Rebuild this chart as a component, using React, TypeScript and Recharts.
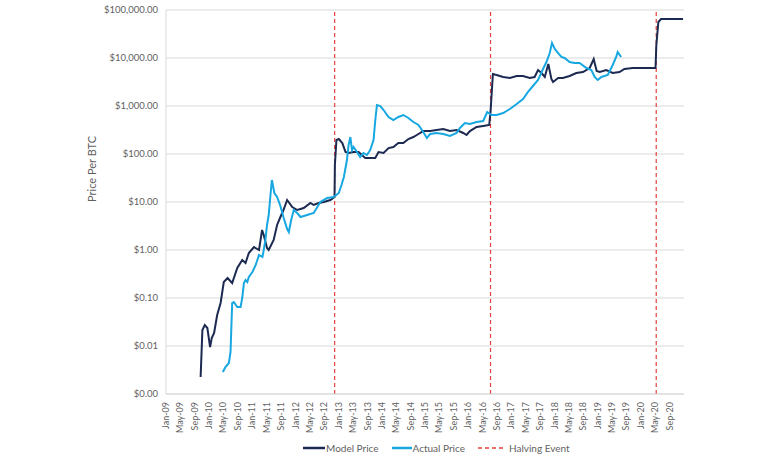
import { LineChart, Line, XAxis, YAxis, CartesianGrid, ReferenceLine } from "recharts";

// [date, price in USD]
const modelPrice: [string, number][] = [
  ["2009-10-21", 0.00226], ["2009-11-05", 0.0215], ["2009-11-25", 0.0274], ["2009-12-17", 0.0237],
  ["2010-01-09", 0.0095], ["2010-01-23", 0.0147], ["2010-02-12", 0.0187], ["2010-03-10", 0.0443],
  ["2010-04-08", 0.0787], ["2010-05-05", 0.215], ["2010-06-06", 0.261], ["2010-07-15", 0.205],
  ["2010-08-27", 0.422], ["2010-10-08", 0.619], ["2010-11-05", 0.536], ["2010-12-03", 0.866],
  ["2011-01-15", 1.155], ["2011-02-27", 1.0], ["2011-03-25", 2.61], ["2011-04-08", 2.05],
  ["2011-05-06", 1.1], ["2011-05-20", 1.0], ["2011-07-01", 1.62], ["2011-07-30", 3.32],
  ["2011-08-27", 4.87], ["2011-09-22", 6.81], ["2011-10-23", 11.0], ["2011-12-05", 7.87],
  ["2012-01-16", 6.81], ["2012-03-11", 7.5], ["2012-05-07", 9.53], ["2012-06-04", 8.66],
  ["2012-07-16", 9.53], ["2012-08-28", 10.0], ["2012-10-23", 11.0], ["2012-11-27", 12.7],
  ["2012-11-30", 59], ["2012-12-13", 196], ["2013-01-02", 205], ["2013-02-01", 169],
  ["2013-02-28", 110], ["2013-03-26", 105], ["2013-05-07", 110], ["2013-06-18", 110],
  ["2013-07-16", 95.3], ["2013-08-14", 82.5], ["2013-09-25", 82.5], ["2013-11-07", 82.5],
  ["2013-12-04", 110], ["2014-01-16", 105], ["2014-02-27", 133], ["2014-04-09", 140],
  ["2014-05-21", 169], ["2014-07-02", 169], ["2014-08-14", 205], ["2014-09-25", 226],
  ["2014-11-07", 261], ["2014-12-18", 301], ["2015-02-14", 301], ["2015-04-10", 316],
  ["2015-06-05", 332], ["2015-08-01", 301], ["2015-09-26", 316], ["2015-11-21", 274],
  ["2015-12-19", 249], ["2016-01-17", 301], ["2016-03-13", 365], ["2016-05-08", 383],
  ["2016-06-28", 402], ["2016-07-10", 825], ["2016-07-29", 4640], ["2016-08-29", 4420],
  ["2016-10-24", 4020], ["2016-12-20", 3830], ["2017-02-15", 4220], ["2017-04-10", 4220],
  ["2017-06-06", 3830], ["2017-07-17", 4020], ["2017-08-15", 5620], ["2017-09-13", 4870],
  ["2017-10-11", 4020], ["2017-11-10", 7500], ["2017-12-06", 3650], ["2017-12-20", 3160],
  ["2018-02-01", 3830], ["2018-03-13", 3830], ["2018-05-09", 4220], ["2018-07-05", 4870],
  ["2018-08-30", 5110], ["2018-10-26", 6190], ["2018-11-29", 9530], ["2018-12-24", 5360],
  ["2019-01-19", 5110], ["2019-03-15", 5620], ["2019-05-09", 4870], ["2019-07-05", 5110],
  ["2019-08-16", 5900], ["2019-10-26", 6190], ["2020-02-17", 6190], ["2020-05-05", 6190],
  ["2020-05-12", 18660], ["2020-05-29", 56200], ["2020-06-21", 64900], ["2020-12-24", 64900],
];

const actualPrice: [string, number][] = [
  ["2010-04-27", 0.00287], ["2010-05-19", 0.00365], ["2010-06-17", 0.00443], ["2010-07-01", 0.0075],
  ["2010-07-15", 0.0787], ["2010-07-29", 0.0826], ["2010-08-27", 0.0649], ["2010-09-24", 0.0649],
  ["2010-10-08", 0.1], ["2010-10-22", 0.205], ["2010-11-05", 0.237], ["2010-11-20", 0.215],
  ["2010-12-03", 0.274], ["2011-01-02", 0.348], ["2011-01-30", 0.487], ["2011-02-27", 0.787],
  ["2011-03-28", 0.715], ["2011-04-08", 1.0], ["2011-04-22", 1.62], ["2011-05-06", 3.32],
  ["2011-05-20", 5.36], ["2011-06-04", 14.0], ["2011-06-16", 28.7], ["2011-07-07", 15.4],
  ["2011-07-30", 12.7], ["2011-08-27", 8.25], ["2011-09-24", 4.64], ["2011-10-23", 2.74],
  ["2011-11-06", 2.37], ["2011-11-26", 4.22], ["2011-12-18", 6.81], ["2012-01-16", 5.9],
  ["2012-02-13", 4.87], ["2012-04-09", 5.36], ["2012-06-04", 5.9], ["2012-07-30", 10.0],
  ["2012-09-25", 12.1], ["2012-11-20", 12.7], ["2013-01-02", 15.4], ["2013-01-25", 22.6],
  ["2013-02-14", 33.2], ["2013-03-12", 75], ["2013-03-26", 154], ["2013-04-10", 226],
  ["2013-04-24", 121], ["2013-05-07", 140], ["2013-06-05", 110], ["2013-07-02", 86.6],
  ["2013-07-30", 105], ["2013-08-28", 95.3], ["2013-09-25", 121], ["2013-10-23", 196],
  ["2013-11-07", 511], ["2013-11-21", 1050], ["2013-12-19", 1000], ["2014-01-16", 825],
  ["2014-02-27", 590], ["2014-04-09", 511], ["2014-05-21", 590], ["2014-07-02", 649],
  ["2014-08-14", 562], ["2014-09-25", 464], ["2014-11-07", 402], ["2014-12-18", 287],
  ["2015-01-17", 215], ["2015-02-14", 261], ["2015-04-10", 274], ["2015-06-05", 261],
  ["2015-08-01", 237], ["2015-09-26", 274], ["2015-10-24", 348], ["2015-12-05", 442],
  ["2016-01-17", 422], ["2016-03-13", 464], ["2016-05-08", 487], ["2016-06-11", 750],
  ["2016-07-17", 649], ["2016-08-29", 649], ["2016-10-24", 715], ["2016-12-20", 866],
  ["2017-02-15", 1100], ["2017-04-10", 1400], ["2017-05-22", 1960], ["2017-07-03", 2610],
  ["2017-08-15", 3480], ["2017-09-26", 5900], ["2017-10-25", 8250], ["2017-11-22", 12700],
  ["2017-12-11", 20500], ["2018-01-04", 15400], ["2018-02-01", 12700], ["2018-03-01", 10500],
  ["2018-03-28", 10000], ["2018-05-09", 8250], ["2018-06-20", 7870], ["2018-08-02", 7870],
  ["2018-09-28", 6190], ["2018-11-09", 5620], ["2018-12-07", 4020], ["2019-01-02", 3480],
  ["2019-02-02", 4020], ["2019-03-28", 4420], ["2019-05-09", 7150], ["2019-06-07", 10500],
  ["2019-06-20", 13300], ["2019-07-19", 10500],
];

const halvingDates = ["2012-11-28", "2016-07-09", "2020-05-11"];
const yTicks = [0.001, 0.01, 0.1, 1, 10, 100, 1000, 10000, 100000];
const monthNames = ["Jan", "May", "Sep"];

const MODEL = "#1c2a52";
const ACTUAL = "#17a7e1";
const HALVING = "#e5413b";
const TEXT = "#5f5f5f";
const GRID = "#d9d9d9";

const toTime = (d: string) => Date.parse(d + "T00:00:00Z");

const rows = [
  ...modelPrice.map(([d, v]) => ({ t: toTime(d), model: v })),
  ...actualPrice.map(([d, v]) => ({ t: toTime(d), actual: v })),
].sort((a, b) => a.t - b.t);

// a label every 4 months, Jan-09 .. Sep-20
const xTicks: number[] = [];
for (let y = 2009; y <= 2020; y++) {
  for (let k = 0; k < 3; k++) xTicks.push(Date.UTC(y, k * 4, 1));
}

function formatMonth(t: number): string {
  const d = new Date(t);
  return `${monthNames[d.getUTCMonth() / 4]}-${String(d.getUTCFullYear() % 100).padStart(2, "0")}`;
}

function formatPrice(v: number): string {
  return "$" + v.toLocaleString("en-US", { minimumFractionDigits: 2, maximumFractionDigits: 2 });
}

function MonthTick({ x, y, payload }: any) {
  return (
    <g transform={`translate(${x},${y})`}>
      <text transform="rotate(-90)" x={0} y={0} dy="0.35em" textAnchor="end" fontSize={9} fill={TEXT}>
        {formatMonth(payload.value)}
      </text>
    </g>
  );
}

function LegendItem({ color, dashed, label, lineWidth }: { color: string; dashed?: boolean; label: string; lineWidth: number }) {
  return (
    <div style={{ display: "flex", alignItems: "center", marginRight: 13 }}>
      <svg width={lineWidth} height={4} style={{ marginRight: dashed ? 6 : 1 }}>
        <line x1={0} y1={2} x2={lineWidth} y2={2} stroke={color} strokeWidth={dashed ? 1.5 : 2.5} strokeDasharray={dashed ? "4 3" : undefined} />
      </svg>
      <span>{label}</span>
    </div>
  );
}

export default function App() {
  return (
    <div style={{ position: "absolute", left: 0, top: 0, width: 768, height: 463, background: "#fff", fontFamily: "Lato, sans-serif" }}>
      <LineChart width={768} height={463} data={rows} margin={{ top: 10, right: 84, left: 86, bottom: 29 }}>
        <CartesianGrid vertical={false} stroke={GRID} />
        <XAxis
          type="number"
          dataKey="t"
          domain={[Date.UTC(2009, 0, 1), Date.UTC(2021, 0, 1)]}
          ticks={xTicks}
          interval={0}
          tick={<MonthTick />}
          tickLine={false}
          axisLine={{ stroke: GRID }}
          height={40}
        />
        <YAxis
          type="number"
          scale="log"
          domain={[0.001, 100000]}
          ticks={yTicks}
          allowDataOverflow
          tickFormatter={formatPrice}
          tick={{ fontSize: 9.5, fill: TEXT }}
          tickLine={false}
          axisLine={{ stroke: GRID }}
          width={80}
          label={{ value: "Price Per BTC", angle: -90, position: "insideLeft", offset: 6, fontSize: 11, fill: TEXT }}
        />
        {halvingDates.map((d) => (
          <ReferenceLine key={d} x={toTime(d)} stroke={HALVING} strokeWidth={1.2} strokeDasharray="4 3" />
        ))}
        <Line type="linear" dataKey="model" stroke={MODEL} strokeWidth={2} dot={false} connectNulls isAnimationActive={false} />
        <Line type="linear" dataKey="actual" stroke={ACTUAL} strokeWidth={2} dot={false} connectNulls isAnimationActive={false} />
      </LineChart>
      <div style={{ position: "absolute", top: 442, left: 303, display: "flex", alignItems: "center", fontSize: 10, color: TEXT, whiteSpace: "nowrap" }}>
        <LegendItem color={MODEL} label="Model Price" lineWidth={22} />
        <LegendItem color={ACTUAL} label="Actual Price" lineWidth={20} />
        <LegendItem color={HALVING} dashed label="Halving Event" lineWidth={25} />
      </div>
    </div>
  );
}
